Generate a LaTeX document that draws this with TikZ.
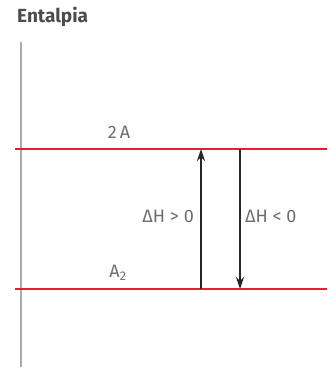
\documentclass[tikz,border=0pt]{standalone}
\usepackage{fontspec}
\setmainfont{Fira Sans}
\usepackage{tikz}
\usetikzlibrary{arrows.meta, positioning}
\definecolor{grey1}{RGB}{170,170,170}
\definecolor{red1}{RGB}{230,30,50}
\definecolor{text1}{RGB}{110,110,110}

\begin{document}
\begin{tikzpicture}[
    x=1pt, y=-1pt,
    every node/.style={inner sep=0pt, anchor=center},
    myarrow/.style={-{Stealth[length=12pt,width=8pt]}, line width=1.4pt, black!85},
    level/.style={red1, line width=2pt},
    axisline/.style={grey1, line width=2.2pt},
    lbl/.style={text=text1, font=\fontsize{18}{21}\selectfont}
]
\useasboundingbox (0,0) rectangle (327,367);

% axis
\node[font=\bfseries\fontsize{19}{22}\selectfont, text=black!70, anchor=west] (title) at (17,17) {Entalpia};
\coordinate (axtop) at (21,42);
\coordinate (axbot) at (21,367);
\draw[axisline] (axtop) -- (axbot);

% energy levels
\foreach \n/\y in {up/149, low/289} {
    \coordinate (\n L) at (15,\y);
    \coordinate (\n R) at (327,\y);
    \draw[level] (\n L) -- (\n R);
}
\node[lbl] (twoA) at (119,132) {2\,A};
\node[lbl] (Atwo) at (118,273) {A\textsubscript{2}};

% arrows
\coordinate (a1) at (201,289);
\coordinate (a2) at (201,149);
\coordinate (b1) at (240,149);
\coordinate (b2) at (240,289);
\draw[myarrow] (a1) -- (a2);
\draw[myarrow] (b1) -- (b2);
\node[lbl, anchor=east] (dHpos) at (194,216) {ΔH > 0};
\node[lbl, anchor=west] (dHneg) at (245,216) {ΔH < 0};

\end{tikzpicture}
\end{document}
